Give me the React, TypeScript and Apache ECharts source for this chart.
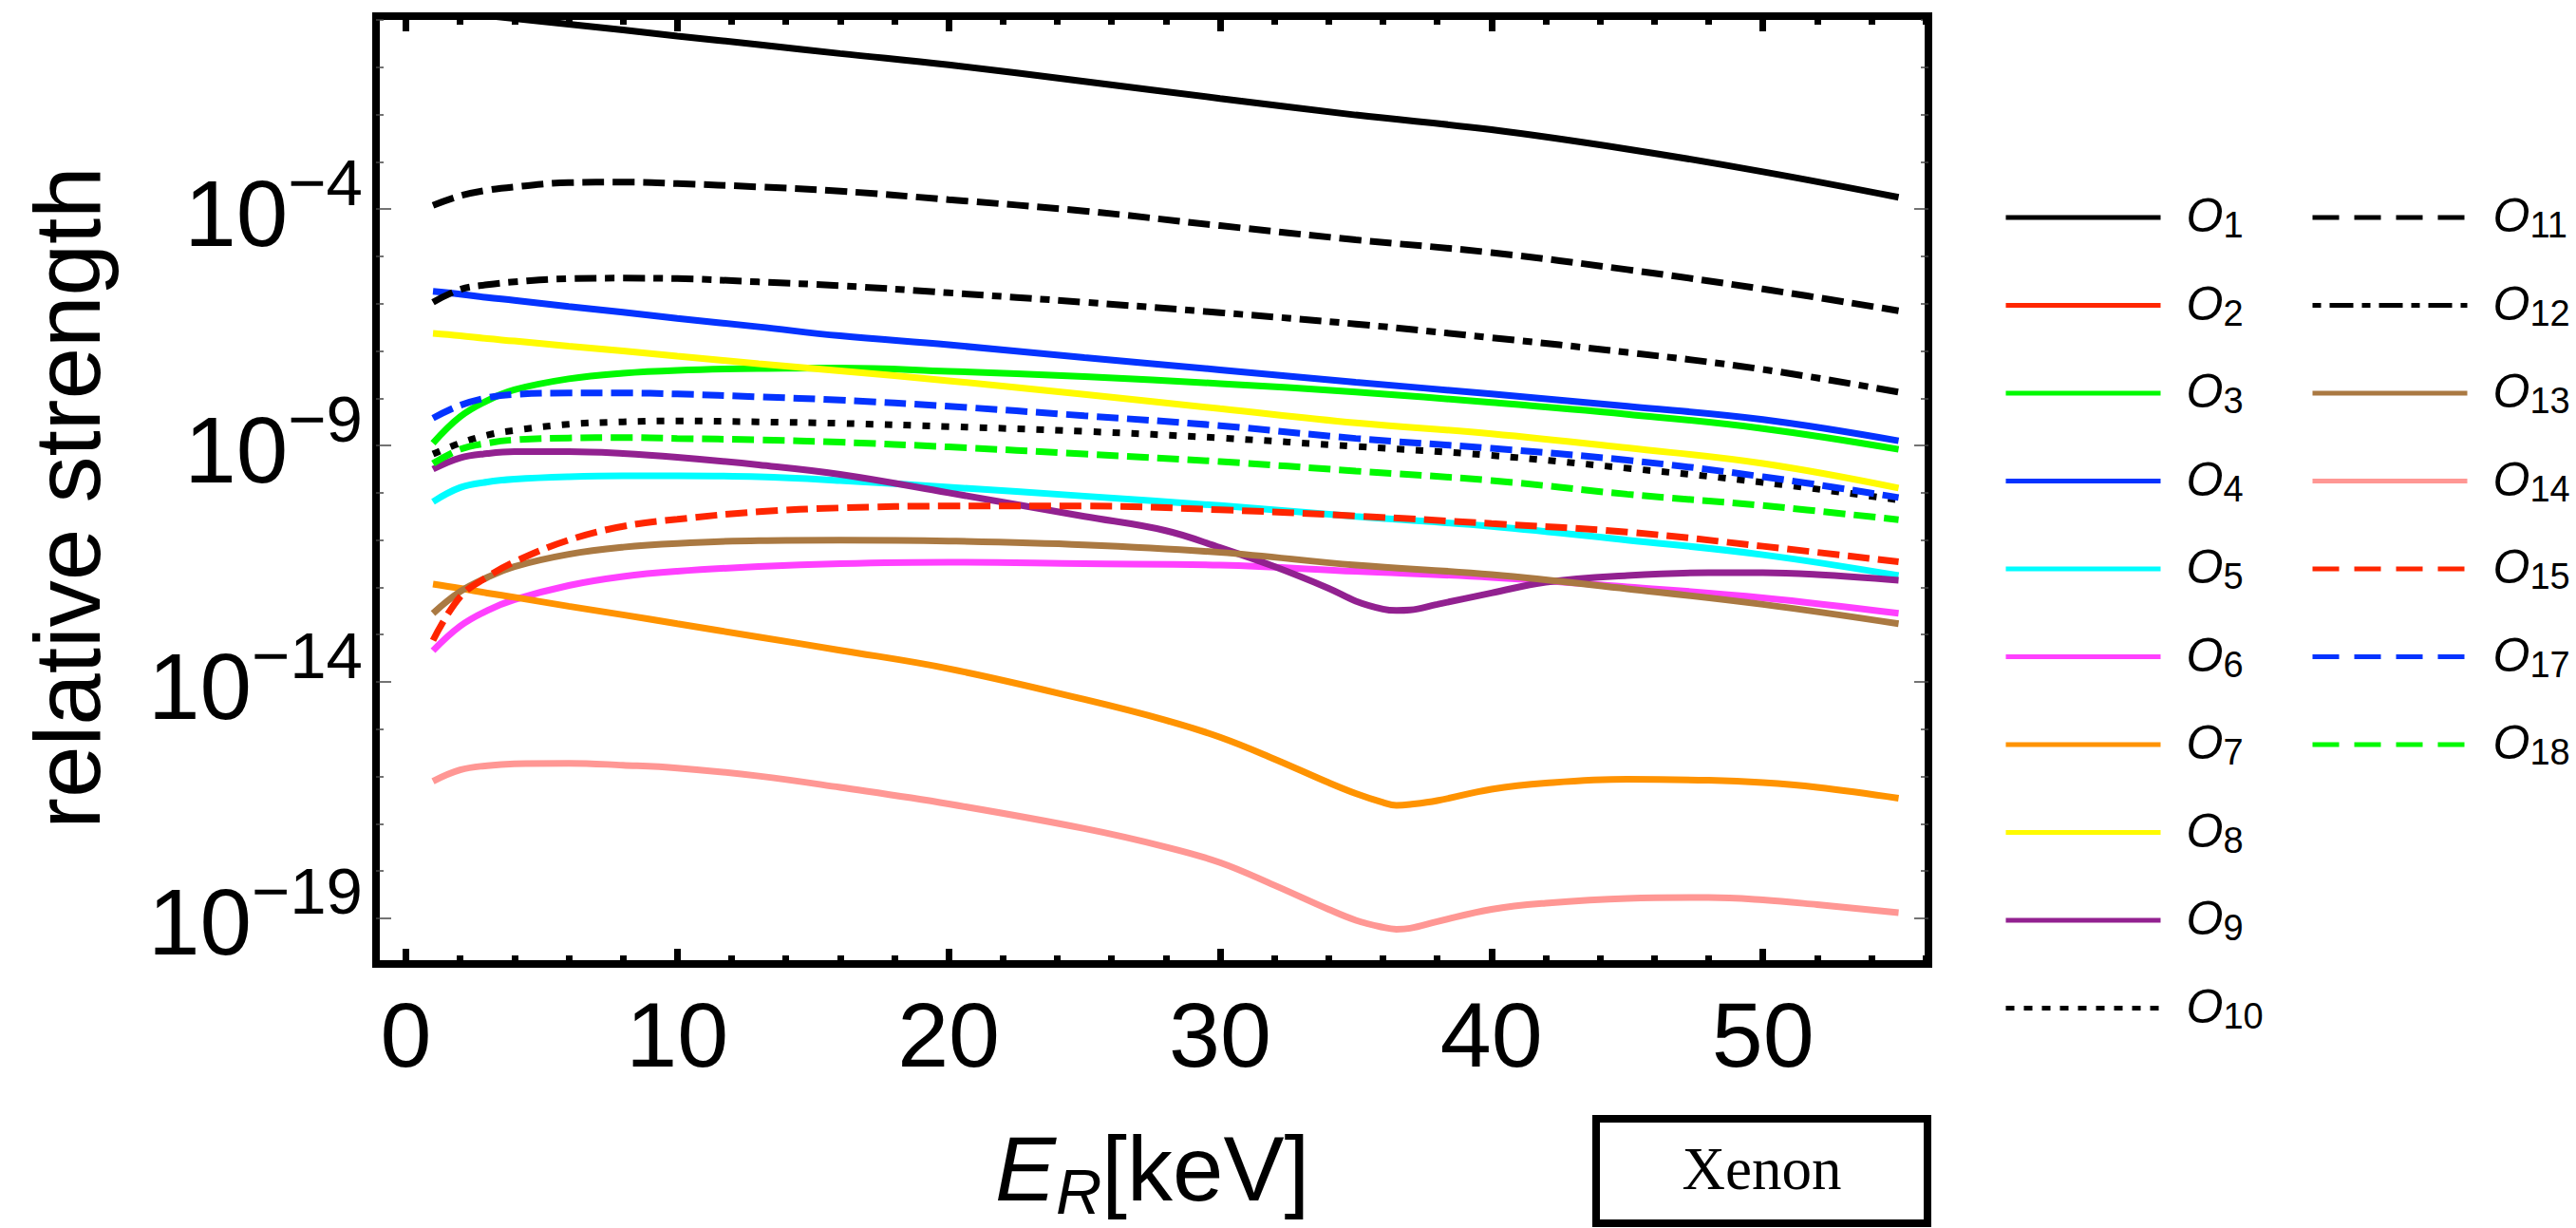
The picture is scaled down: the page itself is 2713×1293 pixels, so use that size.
import React, { useEffect, useRef } from 'react';
import * as echarts from 'echarts';

// Recoil energy grid (keV)
const ER = [1, 2, 3, 4, 6, 8, 10, 13, 16, 20, 25, 30, 35, 40, 45, 50, 55];
// Denser grid for curves with a dip near 36.5 keV
const ER_DIP = [1, 2, 3, 4, 6, 8, 10, 13, 16, 20, 25, 28, 30, 32, 34, 35, 36, 36.5, 37, 38, 40, 42, 45, 48, 50, 52, 55];

// log10(relative strength)
const O1 = [0.21, 0.15, 0.09, 0.03, -0.09, -0.21, -0.34, -0.52, -0.71, -0.95, -1.3, -1.66, -2.01, -2.32, -2.73, -3.21, -3.75];
const O2: number[] = [];
const O3 = [-8.95, -8.39, -8.05, -7.82, -7.59, -7.47, -7.41, -7.37, -7.36, -7.43, -7.54, -7.69, -7.87, -8.09, -8.34, -8.64, -9.08];
const O4 = [-5.74, -5.8, -5.87, -5.93, -6.06, -6.18, -6.31, -6.49, -6.68, -6.87, -7.14, -7.4, -7.66, -7.91, -8.17, -8.45, -8.9];
const O5 = [-10.19, -9.89, -9.77, -9.71, -9.66, -9.64, -9.64, -9.66, -9.74, -9.88, -10.07, -10.27, -10.5, -10.71, -11.0, -11.31, -11.75];
const O6 = [-13.34, -12.82, -12.49, -12.26, -11.96, -11.77, -11.66, -11.56, -11.5, -11.47, -11.5, -11.53, -11.66, -11.79, -11.99, -12.22, -12.55];
const O7 = [-11.93, -12.02, -12.12, -12.21, -12.4, -12.58, -12.77, -13.05, -13.33, -13.72, -14.37, -14.81, -15.17, -15.63, -16.13, -16.36, -16.55, -16.61, -16.59, -16.51, -16.27, -16.14, -16.06, -16.08, -16.13, -16.23, -16.46];
const O8 = [-6.63, -6.68, -6.74, -6.79, -6.9, -7.0, -7.11, -7.27, -7.42, -7.63, -7.92, -8.22, -8.52, -8.75, -9.05, -9.38, -9.9];
const O9 = [-9.5, -9.26, -9.17, -9.13, -9.13, -9.17, -9.25, -9.41, -9.61, -10.0, -10.5, -10.8, -11.16, -11.56, -12.02, -12.29, -12.46, -12.49, -12.48, -12.36, -12.12, -11.89, -11.75, -11.69, -11.69, -11.73, -11.85];
const O10 = [-9.18, -8.95, -8.78, -8.68, -8.55, -8.5, -8.48, -8.5, -8.53, -8.6, -8.7, -8.84, -9.02, -9.21, -9.48, -9.78, -10.15];
const O11 = [-3.92, -3.72, -3.6, -3.53, -3.44, -3.43, -3.46, -3.53, -3.62, -3.8, -4.04, -4.35, -4.65, -4.92, -5.28, -5.69, -6.15];
const O12 = [-5.97, -5.7, -5.6, -5.54, -5.47, -5.46, -5.47, -5.54, -5.62, -5.77, -5.97, -6.19, -6.43, -6.72, -7.03, -7.39, -7.87];
const O13 = [-12.55, -12.09, -11.79, -11.56, -11.3, -11.15, -11.07, -11.01, -11.0, -11.02, -11.1, -11.26, -11.53, -11.73, -12.03, -12.36, -12.77];
const O14 = [-16.1, -15.86, -15.77, -15.73, -15.72, -15.76, -15.82, -15.99, -16.23, -16.58, -17.1, -17.49, -17.82, -18.3, -18.81, -19.04, -19.19, -19.23, -19.21, -19.07, -18.81, -18.68, -18.58, -18.56, -18.61, -18.71, -18.88];
const O15 = [-13.12, -12.2, -11.78, -11.46, -11.0, -10.71, -10.56, -10.4, -10.32, -10.28, -10.28, -10.36, -10.49, -10.65, -10.83, -11.13, -11.46];
const O17 = [-8.42, -8.15, -7.99, -7.92, -7.89, -7.89, -7.91, -7.97, -8.04, -8.17, -8.37, -8.58, -8.85, -9.06, -9.31, -9.66, -10.1];
const O18 = [-9.38, -9.08, -8.95, -8.88, -8.84, -8.83, -8.85, -8.88, -8.93, -9.03, -9.18, -9.34, -9.54, -9.74, -10.03, -10.27, -10.57];

// axis ticks (minor lists skip the major positions)
const X_MAJOR = [0, 10, 20, 30, 40, 50];
const X_MINOR = [2, 4, 6, 8, 12, 14, 16, 18, 22, 24, 26, 28, 32, 34, 36, 38, 42, 44, 46, 48, 52, 54, 56];
const Y_MAJOR_EXP = [-19, -14, -9, -4];
const Y_MINOR_EXP = [-18, -17, -16, -15, -13, -12, -11, -10, -8, -7, -6, -5, -3, -2, -1, 0];

const X_RANGE = [-1.1, 56.1];
const Y_RANGE_EXP = [-19.965, 0.081];

const SOLID: number[] | null = null;
const DASH = [23, 9];
const DOT = [8, 12];
const DASHDOT = [23, 9, 10, 9];

const SERIES_DEF = [
  { name: 'O1', x: ER, y: O1, color: '#000000', dash: SOLID, legendDash: SOLID },
  { name: 'O2', x: ER, y: O2, color: '#FF2600', dash: SOLID, legendDash: SOLID },
  { name: 'O3', x: ER, y: O3, color: '#00F900', dash: SOLID, legendDash: SOLID },
  { name: 'O4', x: ER, y: O4, color: '#0433FF', dash: SOLID, legendDash: SOLID },
  { name: 'O5', x: ER, y: O5, color: '#00FDFF', dash: SOLID, legendDash: SOLID },
  { name: 'O6', x: ER, y: O6, color: '#FF40FF', dash: SOLID, legendDash: SOLID },
  { name: 'O7', x: ER_DIP, y: O7, color: '#FF9300', dash: SOLID, legendDash: SOLID },
  { name: 'O8', x: ER, y: O8, color: '#FFFB00', dash: SOLID, legendDash: SOLID },
  { name: 'O9', x: ER_DIP, y: O9, color: '#922190', dash: SOLID, legendDash: SOLID },
  { name: 'O10', x: ER, y: O10, color: '#000000', dash: DOT, legendDash: [9, 10] },
  { name: 'O11', x: ER, y: O11, color: '#000000', dash: DASH, legendDash: [28, 16] },
  { name: 'O12', x: ER, y: O12, color: '#000000', dash: DASHDOT, legendDash: [9, 9, 25, 9] },
  { name: 'O13', x: ER, y: O13, color: '#AA7942', dash: SOLID, legendDash: SOLID },
  { name: 'O14', x: ER_DIP, y: O14, color: '#FF9794', dash: SOLID, legendDash: SOLID },
  { name: 'O15', x: ER, y: O15, color: '#FF2600', dash: DASH, legendDash: [28, 16] },
  { name: 'O17', x: ER, y: O17, color: '#0433FF', dash: DASH, legendDash: [28, 16] },
  { name: 'O18', x: ER, y: O18, color: '#00F900', dash: DASH, legendDash: [28, 16] },
];

const FONT = 'Liberation Sans';

export default function App() {
  const ref = useRef<HTMLDivElement>(null);
  useEffect(() => {
    const chart = echarts.init(ref.current!, null, { renderer: 'svg' });
    const yMin = Math.pow(10, Y_RANGE_EXP[0]);
    const yMax = Math.pow(10, Y_RANGE_EXP[1]);
    const yMajor = Y_MAJOR_EXP.map((e) => Math.pow(10, e));
    const yMinor = Y_MINOR_EXP.map((e) => Math.pow(10, e));
    const toExp = (v: number) => (v > 0 ? Math.round(Math.log10(v)) : Math.round(v));

    const xBase = (position: string, ticks: number[], len: number) => ({
      type: 'value',
      position,
      min: X_RANGE[0],
      max: X_RANGE[1],
      splitLine: { show: false },
      axisLine: { show: false, onZero: false },
      axisLabel: { show: false },
      axisTick: { show: true, inside: true, length: len, customValues: ticks, lineStyle: { color: '#000', width: 7 } },
    });
    const yBase = (position: string, ticks: number[], len: number) => ({
      type: 'log',
      logBase: 10,
      position,
      min: yMin,
      max: yMax,
      splitLine: { show: false },
      axisLine: { show: false, onZero: false },
      axisLabel: { show: false },
      axisTick: { show: true, inside: true, length: len, customValues: ticks, lineStyle: { color: '#444', width: 1.5 } },
    });

    const legendItem = (d: any) => ({
      name: d.name,
      itemStyle: { opacity: 0, borderWidth: 0 },
      lineStyle: { width: 5, type: d.legendDash ? d.legendDash : 'solid', color: d.color },
    });
    const legendBase = {
      orient: 'vertical',
      top: 197,
      itemWidth: 163,
      itemHeight: 20,
      itemGap: 38.5,
      selectedMode: false,
      itemStyle: { opacity: 0, borderWidth: 0 },
      formatter: (name: string) => `{o|O}{s|${name.slice(1)}}`,
      textStyle: {
        color: '#000',
        padding: [0, 0, 0, 22],
        rich: {
          o: { fontFamily: FONT, fontSize: 50, fontStyle: 'italic', height: 50, verticalAlign: 'top', color: '#000' },
          s: { fontFamily: FONT, fontSize: 38, height: 38, lineHeight: 54, verticalAlign: 'bottom', color: '#000' },
        },
      },
    };

    const xMain: any = xBase('bottom', X_MAJOR, 16);
    xMain.axisLabel = {
      show: true,
      customValues: X_MAJOR,
      formatter: (v: number) => String(Math.round(v)),
      fontFamily: FONT,
      fontSize: 97,
      color: '#000',
      margin: 26,
    };
    xMain.name = '{i|E}{r|R}{n|[keV]}';
    xMain.nameLocation = 'middle';
    xMain.nameGap = 167;
    xMain.nameTextStyle = {
      color: '#000',
      rich: {
        i: { fontFamily: FONT, fontSize: 96, fontStyle: 'italic', height: 96, verticalAlign: 'top', color: '#000' },
        r: { fontFamily: FONT, fontSize: 67, fontStyle: 'italic', height: 67, lineHeight: 106, verticalAlign: 'bottom', color: '#000' },
        n: { fontFamily: FONT, fontSize: 96, height: 96, verticalAlign: 'top', color: '#000' },
      },
    };

    const yMain: any = yBase('left', yMajor, 16);
    yMain.axisLabel = {
      show: true,
      customValues: yMajor,
      formatter: (v: number) => `{b|10}{s|\u2212${-toExp(v)}}`,
      margin: 14,
      padding: [0, 0, 9, 0],
      rich: {
        b: { fontFamily: FONT, fontSize: 98, height: 98, lineHeight: 116, verticalAlign: 'bottom', color: '#000' },
        s: { fontFamily: FONT, fontSize: 69, height: 69, verticalAlign: 'top', color: '#000' },
      },
    };
    yMain.name = 'relative strength';
    yMain.nameLocation = 'middle';
    yMain.nameRotate = 90;
    yMain.nameGap = 276;
    yMain.nameTextStyle = { fontFamily: FONT, fontSize: 98, color: '#000', padding: [0, 16, 0, 0] };

    const series = SERIES_DEF.map((d) => ({
      name: d.name,
      type: 'line',
      xAxisIndex: 0,
      yAxisIndex: 0,
      symbol: 'none',
      smooth: 0.4,
      color: d.color,
      lineStyle: { color: d.color, width: 7, type: d.dash ? d.dash : 'solid', cap: 'butt' },
      data: d.y.map((e, i) => [d.x[i], Math.pow(10, e)]),
    }));

    chart.setOption({
      animation: false,
      backgroundColor: '#ffffff',
      grid: {
        left: 396,
        top: 17,
        width: 1635,
        height: 1009.5,
        show: true,
        borderWidth: 8,
        borderColor: '#000',
        backgroundColor: 'transparent',
        containLabel: false,
      },
      xAxis: [xMain, xBase('bottom', X_MINOR, 9), xBase('top', X_MAJOR, 16), xBase('top', X_MINOR, 9)],
      yAxis: [yMain, yBase('left', yMinor, 8), yBase('right', yMajor, 15), yBase('right', yMinor, 8)],
      legend: [
        { ...legendBase, left: 2105, data: SERIES_DEF.slice(0, 10).map(legendItem) },
        { ...legendBase, left: 2428, data: SERIES_DEF.slice(10).map(legendItem) },
      ],
      graphic: [
        {
          type: 'rect',
          shape: { x: 1681, y: 1178, width: 349, height: 110 },
          style: { fill: '#fff', stroke: '#000', lineWidth: 8 },
        },
        {
          type: 'text',
          x: 1855.5,
          y: 1231,
          style: {
            text: 'Xenon',
            fontFamily: 'Liberation Serif',
            fontSize: 63,
            fill: '#000',
            align: 'center',
            verticalAlign: 'middle',
          },
        },
      ],
      series,
    });
    return () => chart.dispose();
  }, []);
  return (
    <div
      ref={ref}
      style={{ position: 'fixed', left: 0, top: 0, width: 2713, height: 1293, background: '#fff' }}
    />
  );
}
